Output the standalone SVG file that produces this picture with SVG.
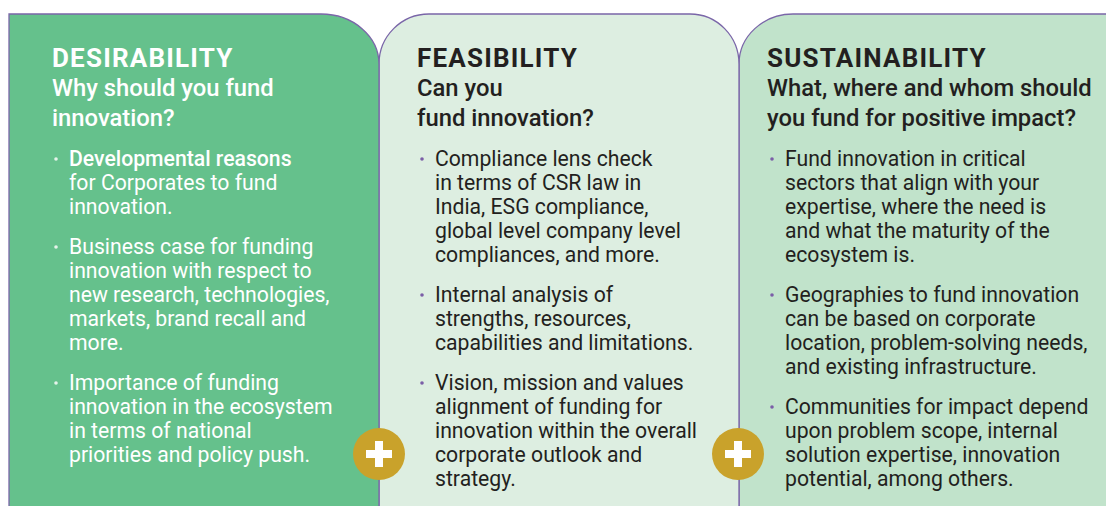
<svg xmlns="http://www.w3.org/2000/svg" width="1106" height="506" viewBox="0 0 1106 506">
<style>
.panel{stroke:#7a66a8;stroke-width:1.3}
.h{font-family:Roboto,"Liberation Sans",sans-serif;font-weight:700;font-size:26px;letter-spacing:1.2px}
.s{font-family:Roboto,"Liberation Sans",sans-serif;font-weight:500;font-size:23.8px}
.b{font-family:Roboto,"Liberation Sans",sans-serif;font-weight:400;font-size:21.2px}
.w{fill:#ffffff}
.d{fill:#231f20}
.dotw{fill:#e6f3ea}
.dotp{fill:#7b5ea7}
.plus{fill:#c9a22b}
</style>
<rect width="1106" height="506" fill="#ffffff"/>
<g id="panel-sustainability">
<path class="panel" fill="#c1e3cb" d="M739,520 V64 A54,50 0 0 1 793,14 H1110 V520 Z"/>
<text class="h d" x="767" y="67">SUSTAINABILITY</text>
<text class="s d" x="767" y="96">What, where and whom should</text>
<text class="s d" x="767" y="126">you fund for positive impact?</text>
<circle class="dotp" cx="772" cy="159" r="1.8"/>
<text class="b d" x="785"><tspan x="785" y="166">Fund innovation in critical</tspan><tspan x="785" y="190">sectors that align with your</tspan><tspan x="785" y="214">expertise, where the need is</tspan><tspan x="785" y="238">and what the maturity of the</tspan><tspan x="785" y="262">ecosystem is.</tspan></text>
<circle class="dotp" cx="772" cy="295" r="1.8"/>
<text class="b d"><tspan x="785" y="302">Geographies to fund innovation</tspan><tspan x="785" y="326">can be based on corporate</tspan><tspan x="785" y="350">location, problem-solving needs,</tspan><tspan x="785" y="374">and existing infrastructure.</tspan></text>
<circle class="dotp" cx="772" cy="407" r="1.8"/>
<text class="b d"><tspan x="785" y="414">Communities for impact depend</tspan><tspan x="785" y="438">upon problem scope, internal</tspan><tspan x="785" y="462">solution expertise, innovation</tspan><tspan x="785" y="486">potential, among others.</tspan></text>
</g>
<g id="panel-feasibility">
<path class="panel" fill="#ddeee1" d="M379,520 V64 A50,50 0 0 1 429,14 H690 A49,50 0 0 1 739,64 V520 Z"/>
<text class="h d" x="417" y="67">FEASIBILITY</text>
<text class="s d" x="417" y="96">Can you</text>
<text class="s d" x="417" y="126">fund innovation?</text>
<circle class="dotp" cx="422" cy="159" r="1.8"/>
<text class="b d"><tspan x="435" y="166">Compliance lens check</tspan><tspan x="435" y="190">in terms of CSR law in</tspan><tspan x="435" y="214">India, ESG compliance,</tspan><tspan x="435" y="238">global level company level</tspan><tspan x="435" y="262">compliances, and more.</tspan></text>
<circle class="dotp" cx="422" cy="295" r="1.8"/>
<text class="b d"><tspan x="435" y="302">Internal analysis of</tspan><tspan x="435" y="326">strengths, resources,</tspan><tspan x="435" y="350">capabilities and limitations.</tspan></text>
<circle class="dotp" cx="422" cy="383" r="1.8"/>
<text class="b d"><tspan x="435" y="390">Vision, mission and values</tspan><tspan x="435" y="414">alignment of funding for</tspan><tspan x="435" y="438">innovation within the overall</tspan><tspan x="435" y="462">corporate outlook and</tspan><tspan x="435" y="486">strategy.</tspan></text>
</g>
<g id="panel-desirability">
<path class="panel" fill="#65c18c" d="M9,520 V14 H321 A58,50 0 0 1 379,64 V520 Z"/>
<text class="h w" x="52" y="67">DESIRABILITY</text>
<text class="s w" x="52" y="96">Why should you fund</text>
<text class="s w" x="52" y="126">innovation?</text>
<circle class="dotw" cx="56" cy="159" r="1.8"/>
<text class="b w"><tspan x="69" y="166" font-weight="500">Developmental reasons</tspan><tspan x="69" y="190">for Corporates to fund</tspan><tspan x="69" y="214">innovation.</tspan></text>
<circle class="dotw" cx="56" cy="247" r="1.8"/>
<text class="b w"><tspan x="69" y="254">Business case for funding</tspan><tspan x="69" y="278">innovation with respect to</tspan><tspan x="69" y="302">new research, technologies,</tspan><tspan x="69" y="326">markets, brand recall and</tspan><tspan x="69" y="350">more.</tspan></text>
<circle class="dotw" cx="56" cy="383" r="1.8"/>
<text class="b w"><tspan x="69" y="390">Importance of funding</tspan><tspan x="69" y="414">innovation in the ecosystem</tspan><tspan x="69" y="438">in terms of national</tspan><tspan x="69" y="462">priorities and policy push.</tspan></text>
</g>
<g id="connectors">
<g id="plus-1">
<circle class="plus" cx="379" cy="454" r="26"/>
<rect x="366" y="450" width="26" height="8" fill="#ffffff"/>
<rect x="375" y="441" width="8" height="26" fill="#ffffff"/>
</g>
<g id="plus-2">
<circle class="plus" cx="738" cy="454" r="26"/>
<rect x="725" y="450" width="26" height="8" fill="#ffffff"/>
<rect x="734" y="441" width="8" height="26" fill="#ffffff"/>
</g>
</g>
</svg>
